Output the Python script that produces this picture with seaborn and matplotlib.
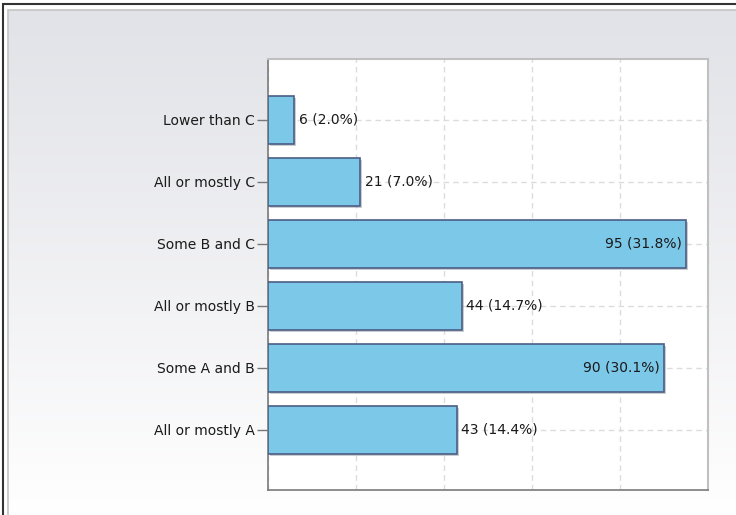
import matplotlib
matplotlib.use('Agg')
import matplotlib.pyplot as plt
import matplotlib.patheffects as pe
from matplotlib.patches import Rectangle
import numpy as np
import pandas as pd
import seaborn as sb

categories = ["Lower than C", "All or mostly C", "Some B and C",
              "All or mostly B", "Some A and B", "All or mostly A"]
counts = [6, 21, 95, 44, 90, 43]
percents = [2.0, 7.0, 31.8, 14.7, 30.1, 14.4]
inside = [False, False, True, False, True, False]

df = pd.DataFrame({"grade": categories, "count": counts})

W, H = 736, 515
fig = plt.figure(figsize=(W / 100, H / 100), dpi=100)
fig.patch.set_facecolor("white")

# background panel with soft vertical gradient
bg = fig.add_axes([0, 0, 1, 1], zorder=-10)
bg.set_axis_off()
grad = np.linspace(0, 1, 256).reshape(-1, 1)
top = np.array([0.886, 0.890, 0.910])
bot = np.array([1.0, 1.0, 1.0])
img = top + (bot - top) * grad[..., None] ** 1.1
bg.imshow(img, extent=[8 / W, 1, 0, 1 - 10 / H], aspect="auto",
          origin="upper", transform=fig.transFigure)
bg.set_xlim(0, 1)
bg.set_ylim(0, 1)
fig.add_artist(Rectangle((8 / W, -0.01), 1, 1 - 10 / H + 0.01, transform=fig.transFigure,
                         fill=False, edgecolor="#c4c4c4", linewidth=1.2))
fig.add_artist(Rectangle((2.5 / W, -0.01), 1, 1 - 4 / H + 0.01, transform=fig.transFigure,
                         fill=False, edgecolor="#333333", linewidth=1.5))

ax = fig.add_axes([268 / W, 1 - 490 / H, 440 / W, 431 / H])
ax.set_facecolor("white")

sb.barplot(data=df, x="count", y="grade", orient="h", color="#7cc8e8",
           saturation=1, edgecolor="#4d5e86", linewidth=1.2, width=0.78,
           ax=ax, zorder=3)
for p in ax.patches:
    p.set_path_effects([pe.SimplePatchShadow(offset=(1.5, -1.5), alpha=0.25),
                        pe.Normal()])

fs = 10
ax.set_xlim(0, 100)
ax.set_ylim(5.97, -0.98)
ax.set_xticks([0, 20, 40, 60, 80, 100])
ax.set_xticklabels([])
ax.tick_params(axis="x", length=0)
ax.tick_params(axis="y", length=8, width=1, color="#777777", pad=1.5,
               labelsize=fs, labelcolor="#1a1a1a")
ax.set_xlabel("")
ax.set_ylabel("")
ax.grid(True, which="major", axis="both", linestyle=(0, (4, 3)),
        color="#dcdcdc", linewidth=1, zorder=0)
ax.set_axisbelow(True)

for s in ["top", "right"]:
    ax.spines[s].set_color("#c0c0c0")
    ax.spines[s].set_linewidth(1.5)
for s in ["left", "bottom"]:
    ax.spines[s].set_color("#7a7a7a")
    ax.spines[s].set_linewidth(1.2)

for i, (c, pc, ins) in enumerate(zip(counts, percents, inside)):
    label = f"{c} ({pc:.1f}%)"
    if ins:
        ax.annotate(label, (c, i), xytext=(-3, 0), textcoords="offset points",
                    ha="right", va="center", fontsize=fs, color="#1a1a1a", zorder=5)
    else:
        ax.annotate(label, (c, i), xytext=(3, 0), textcoords="offset points",
                    ha="left", va="center", fontsize=fs, color="#1a1a1a", zorder=5)

fig.savefig("out.png", dpi=100)
